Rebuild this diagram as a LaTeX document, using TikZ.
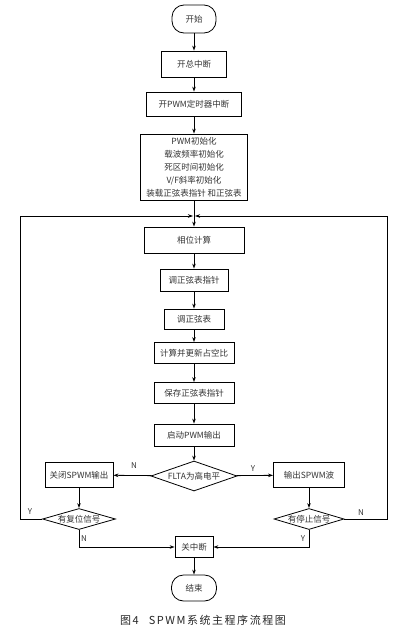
\documentclass[tikz,border=0pt]{standalone}
\usepackage{fontspec}
\setmainfont{Noto Sans CJK SC}
\newfontfamily\capfont[LetterSpace=14]{Noto Sans CJK SC}
\usetikzlibrary{shapes.geometric,arrows.meta}

\begin{document}
\begin{tikzpicture}[x=1pt, y=-1pt, line width=0.8pt,
	box/.style={rectangle, draw, inner sep=1pt, font=\fontsize{8.5}{13}\selectfont, text=black!80},
	term/.style={box, rounded corners=12pt},
	ask/.style={diamond, draw, inner sep=0pt, font=\fontsize{8.5}{13}\selectfont, text=black!80},
	tag/.style={font=\fontsize{8}{10}\selectfont, text=black!80},
	arr/.style={-{Stealth[length=5pt, width=3.5pt]}}]
			\useasboundingbox (0,0) rectangle (418,632);

			\node[term, minimum width=44pt, minimum height=28pt] (start) at (194, 19) {开始};
			\node[box, minimum width=65pt, minimum height=26pt] (eint) at (194, 64) {开总中断};
			\node[box, minimum width=95pt, minimum height=24pt] (epwm) at (194, 104) {开PWM定时器中断};
			\node[box, minimum width=107pt, minimum height=66pt, align=center] (init) at (194, 167)
				{PWM初始化\\载波频率初始化\\死区时间初始化\\V/F斜率初始化\\装载正弦表指针 和正弦表};
			\coordinate (join) at (194, 216);
			\coordinate (cl) at (20, 216);
			\coordinate (cr) at (387, 216);
			\node[box, minimum width=100pt, minimum height=26pt] (phase) at (194, 240) {相位计算};
			\node[box, minimum width=68pt, minimum height=22pt] (ptr) at (194, 280) {调正弦表指针};
			\node[box, minimum width=60pt, minimum height=20pt] (tab) at (194, 319) {调正弦表};
			\node[box, minimum width=80pt, minimum height=21pt] (duty) at (194, 353) {计算并更新占空比};
			\node[box, minimum width=80pt, minimum height=21pt] (save) at (194, 393) {保存正弦表指针};
			\node[box, minimum width=80pt, minimum height=22pt] (run) at (194, 435) {启动PWM输出};
			\node[ask, aspect=2.9, minimum width=86pt, minimum height=30pt] (flta) at (194, 476) {FLTA为高电平};
			\node[box, minimum width=68pt, minimum height=25pt] (close) at (79, 475) {关闭SPWM输出};
			\node[box, minimum width=71pt, minimum height=25pt] (outp) at (309, 475) {输出SPWM波};
			\node[ask, aspect=3.3, minimum width=73pt, minimum height=21pt] (reset) at (79, 519) {有复位信号};
			\node[ask, aspect=3.3, minimum width=70pt, minimum height=21pt] (halt) at (309, 519) {有停止信号};
			\node[box, minimum width=38pt, minimum height=21pt] (dint) at (194, 547) {关中断};
			\node[term, minimum width=45pt, minimum height=26pt] (finish) at (194, 588) {结束};

			\node[tag] (n1) at (134, 466) {N};
			\node[tag] (y1) at (253, 469) {Y};
			\node[tag] (y2) at (30, 512) {Y};
			\node[tag] (n2) at (361, 513) {N};
			\node[tag] (n3) at (84, 539) {N};
			\node[tag] (y3) at (303, 539) {Y};

			\draw[arr] (start) -- (eint);
			\draw[arr] (eint) -- (epwm);
			\draw[arr] (epwm) -- (init);
			\draw[arr] (init) -- (phase);
			\draw[arr] (phase) -- (ptr);
			\draw[arr] (ptr) -- (tab);
			\draw[arr] (tab) -- (duty);
			\draw[arr] (duty) -- (save);
			\draw[arr] (save) -- (run);
			\draw[arr] (run) -- (flta);
			\draw[arr] (flta) -- (close);
			\draw[arr] (flta) -- (outp);
			\draw[arr] (close) -- (reset);
			\draw[arr] (outp) -- (halt);
			\draw[arr, shorten >=1pt] (reset.west) -| (cl) -- (join);
			\draw[arr, shorten >=1pt] (halt.east) -| (cr) -- (join);
			\draw[arr] (reset.south) |- (dint.west);
			\draw[arr] (halt.south) |- (dint.east);
			\draw[arr] (dint) -- (finish);

			\node[font=\fontsize{11}{13}\selectfont, text=black!85] (cap) at (203, 620) {\capfont 图4\hspace{10pt}SPWM系统主程序流程图};
		\end{tikzpicture}
\end{document}
